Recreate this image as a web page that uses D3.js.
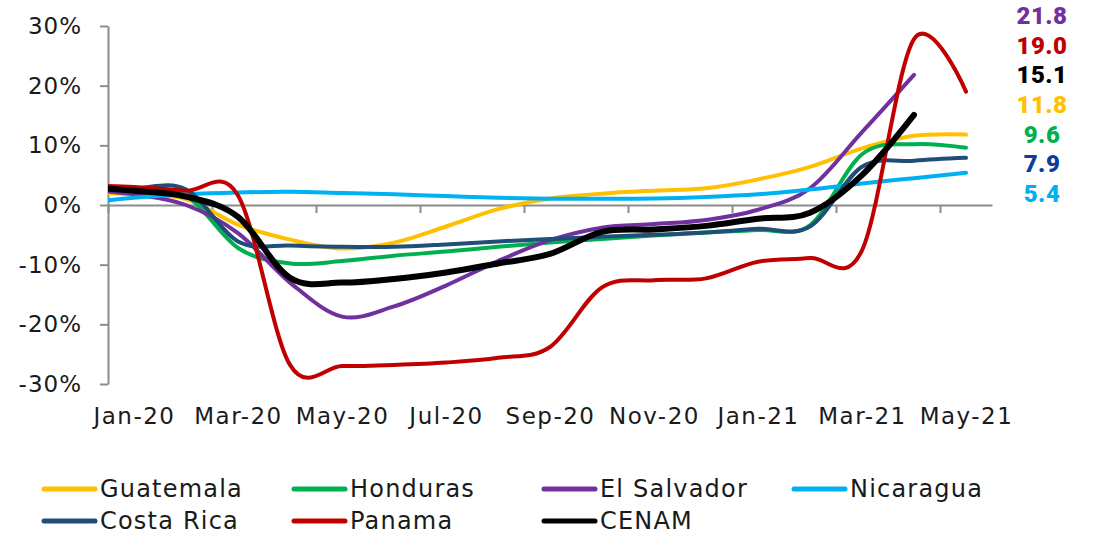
<!DOCTYPE html>
<html>
<head>
<meta charset="utf-8">
<script src="https://cdn.jsdelivr.net/npm/d3@7"></script>
<style>
  html, body { margin: 0; padding: 0; background: #ffffff; }
  svg { display: block; }
</style>
</head>
<body>
<svg id="chart" width="1094" height="536"></svg>
<script>
// ---- data (monthly growth, %) ----
// first entry (Dec-19) is only the lead-in that the chart clips at the axis
const categories = ["Dec-19","Jan-20","Feb-20","Mar-20","Apr-20","May-20","Jun-20","Jul-20","Aug-20","Sep-20","Oct-20","Nov-20","Dec-20","Jan-21","Feb-21","Mar-21","Apr-21","May-21"];
const tickLabels = ["Jan-20","Mar-20","May-20","Jul-20","Sep-20","Nov-20","Jan-21","Mar-21","May-21"];
const yTicks = [30, 20, 10, 0, -10, -20, -30];

const guatemala  = [2.0, 1.8, 1.0, -3.3, -5.8, -7.3, -6.3, -3.6, -0.7, 1.1, 1.9, 2.4, 2.8, 4.3, 6.4, 9.5, 11.6, 11.8];
const honduras   = [2.8, 2.5, 1.6, -7.2, -9.8, -9.4, -8.5, -7.8, -7.0, -6.3, -5.7, -5.1, -4.6, -4.2, -3.4, 8.5, 10.2, 9.6];
const elSalvador = [2.6, 1.8, 0.0, -4.7, -13.0, -18.7, -17.0, -13.5, -9.4, -5.9, -3.8, -3.2, -2.5, -0.8, 2.8, 12.2, 21.8, null];
const nicaragua  = [0.3, 1.2, 1.8, 2.1, 2.2, 2.0, 1.8, 1.5, 1.2, 1.05, 1.05, 1.1, 1.35, 1.8, 2.6, 3.6, 4.5, 5.4];
const costaRica  = [2.6, 2.8, 2.6, -6.1, -6.8, -7.0, -7.0, -6.6, -6.1, -5.7, -5.3, -5.0, -4.6, -4.0, -3.6, 6.4, 7.4, 7.9];
const panama     = [3.3, 3.0, 2.4, 1.6, -26.8, -27.0, -26.8, -26.4, -25.6, -23.8, -13.8, -12.6, -12.3, -9.5, -8.9, -7.6, 27.8, 19.0];
const cenam      = [3.0, 2.4, 1.4, -2.0, -12.2, -13.0, -12.4, -11.3, -9.8, -8.2, -4.5, -4.1, -3.5, -2.3, -1.3, 5.0, 15.1, null];

const seriesNames  = ["Guatemala","Honduras","El Salvador","Nicaragua","Costa Rica","Panama","CENAM"];
const seriesColors = ["#FFC000","#00B050","#7030A0","#00B0F0","#1F4E79","#C00000","#000000"];
const seriesWidths = [4, 4, 4, 4, 4, 4, 6];

const endLabels      = ["21.8","19.0","15.1","11.8","9.6","7.9","5.4"];
const endLabelColors = ["#7030A0","#C00000","#000000","#FFC000","#00B050","#0A3DA0","#00B0F0"];

const seriesValues = [guatemala, honduras, elSalvador, nicaragua, costaRica, panama, cenam];

// ---- layout ----
const svg = d3.select("#chart");
const plotLeft = 108, plotRight = 992, plotTop = 26, plotBottom = 384;
const axisColor = "#8C8C8C";
const font = "'DejaVu Sans', sans-serif";

const x = d3.scaleLinear().domain([0.5, categories.length - 0.5]).range([plotLeft, plotRight]);
const y = d3.scaleLinear().domain([-30, 30]).range([plotBottom, plotTop]);

svg.append("defs").append("clipPath").attr("id", "plotClip")
  .append("rect").attr("x", plotLeft).attr("y", 0).attr("width", plotRight - plotLeft).attr("height", 536);

// y axis
const yAxis = svg.append("g").attr("transform", `translate(${plotLeft},0)`)
  .call(d3.axisLeft(y).tickValues(yTicks).tickFormat(d => d + "%").tickSize(8).tickSizeOuter(0).tickPadding(18));
yAxis.select(".domain").attr("stroke", axisColor).attr("stroke-width", 2);
yAxis.selectAll(".tick line").attr("stroke", axisColor).attr("stroke-width", 2);
yAxis.selectAll(".tick text").attr("font-family", font).attr("font-size", 23)
  .attr("fill", "#1a1a1a").attr("letter-spacing", 1);

// x axis (line at 0 with tick marks at category boundaries)
const labelIdx = tickLabels.map(l => categories.indexOf(l));
const xTicks = svg.append("g").attr("transform", `translate(0,${y(0)})`)
  .call(d3.axisBottom(x).tickValues(labelIdx.map(i => i - 0.5)).tickFormat("").tickSize(8).tickSizeOuter(0));
xTicks.select(".domain").attr("stroke", axisColor).attr("stroke-width", 2);
xTicks.selectAll(".tick line").attr("stroke", axisColor).attr("stroke-width", 2);

// x labels at category centres, below the plot
const xLabels = svg.append("g").attr("transform", `translate(0,${plotBottom})`)
  .call(d3.axisBottom(x).tickValues(labelIdx).tickFormat(i => categories[i]).tickSize(0).tickPadding(24));
xLabels.select(".domain").remove();
xLabels.selectAll(".tick text").attr("font-family", font).attr("font-size", 23)
  .attr("fill", "#1a1a1a").attr("letter-spacing", 1.5);

// lines
const line = d3.line()
  .defined(d => d.v !== null)
  .x(d => x(d.i))
  .y(d => y(d.v))
  .curve(d3.curveCardinal.tension(0));

const plot = svg.append("g").attr("clip-path", "url(#plotClip)");
seriesValues.forEach((vals, k) => {
  plot.append("path")
    .datum(vals.map((v, i) => ({ i, v })))
    .attr("fill", "none")
    .attr("stroke", seriesColors[k])
    .attr("stroke-width", seriesWidths[k])
    .attr("stroke-linejoin", "round")
    .attr("stroke-linecap", "round")
    .attr("d", line);
});

// end-value labels on the right
const yLab = d3.scalePoint().domain(endLabels.map((d, i) => i)).range([16, 194]);
svg.append("g").selectAll("text").data(endLabels).join("text")
  .attr("x", 1042)
  .attr("y", (d, i) => yLab(i))
  .attr("text-anchor", "middle")
  .attr("dominant-baseline", "central")
  .attr("font-family", "Roboto, sans-serif")
  .attr("font-weight", 900)
  .attr("font-size", 24)
  .attr("letter-spacing", 0.5)
  .attr("fill", (d, i) => endLabelColors[i])
  .text(d => d);

// legend
const legCol = d3.scalePoint().domain([0, 1, 2, 3]).range([42, 792]);
const legRow = d3.scalePoint().domain([0, 1]).range([489, 521]);
const leg = svg.append("g").selectAll("g").data(seriesNames).join("g")
  .attr("transform", (d, i) => `translate(${legCol(i % 4)},${legRow(Math.floor(i / 4))})`);
leg.append("line").attr("x1", 2).attr("x2", 53).attr("y1", 0).attr("y2", 0)
  .attr("stroke", (d, i) => seriesColors[i]).attr("stroke-width", 5).attr("stroke-linecap", "round");
leg.append("text").attr("x", 58).attr("y", 0).attr("dominant-baseline", "central")
  .attr("font-family", font).attr("font-size", 24).attr("letter-spacing", 1.2)
  .attr("fill", "#1a1a1a").text(d => d);
</script>
</body>
</html>
